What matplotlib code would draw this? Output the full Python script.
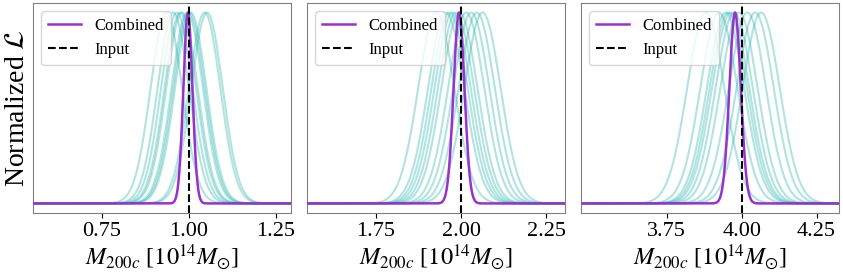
import numpy as np
import matplotlib.pyplot as plt

plt.rcParams['font.family'] = ['Liberation Serif', 'DejaVu Serif']
plt.rcParams['mathtext.fontset'] = 'stix'

# true input masses (10^14 Msun)
inputs = [1.0, 2.0, 4.0]

# peak positions of the individual likelihoods
means_1 = [0.935, 0.955, 0.965, 0.975, 0.98, 0.995, 1.0, 1.005, 1.045, 1.052]
means_2 = [1.927, 1.956, 1.966, 1.975, 1.985, 1.995, 2.015, 2.03, 2.046, 2.063]
means_3 = [3.880, 3.924, 3.946, 3.955, 3.963, 3.975, 3.991, 4.019, 4.045, 4.065]
widths = [0.045, 0.053, 0.062]

# combined likelihood peak and width
comb_means = [0.997, 1.994, 3.978]
comb_widths = [0.013, 0.016, 0.019]

xlims = [(0.552, 1.293), (1.547, 2.306), (3.464, 4.326)]
xticks = [[0.75, 1.00, 1.25], [1.75, 2.00, 2.25], [3.75, 4.00, 4.25]]

all_means = [means_1, means_2, means_3]

fig, axes = plt.subplots(1, 3, figsize=(8.43, 2.72), dpi=100)
plt.subplots_adjust(left=0.039, right=0.9956, top=0.989, bottom=0.217, wspace=0.062)

for i, ax in enumerate(axes):
    x = np.linspace(xlims[i][0], xlims[i][1], 1500)
    for m in all_means[i]:
        y = np.exp(-0.5 * ((x - m) / widths[i]) ** 2)
        ax.plot(x, y, color='lightseagreen', alpha=0.35, lw=1.5)
    yc = np.exp(-0.5 * ((x - comb_means[i]) / comb_widths[i]) ** 2)
    ax.plot(x, yc, color='darkorchid', lw=1.8, label='Combined', zorder=3)
    ax.axvline(inputs[i], color='k', ls='--', lw=1.5, label='Input', zorder=4)
    ax.set_xlim(xlims[i])
    ax.set_xticks(xticks[i])
    ax.set_xticklabels(['%.2f' % t for t in xticks[i]])
    ax.set_yticks([])
    ax.tick_params(axis='x', labelsize=16, length=3.5, width=0.8, pad=3)
    for s in ax.spines.values():
        s.set_color('0.5')
    ax.set_xlabel(r'$M_{200c}$ [$10^{14}M_{\odot}$]', fontsize=17.5, labelpad=1)
    ax.legend(loc='upper left', fontsize=12)

axes[0].set_ylabel(r'Normalized $\mathcal{L}$', fontsize=20, labelpad=2)

plt.savefig('out.png', dpi=100)
